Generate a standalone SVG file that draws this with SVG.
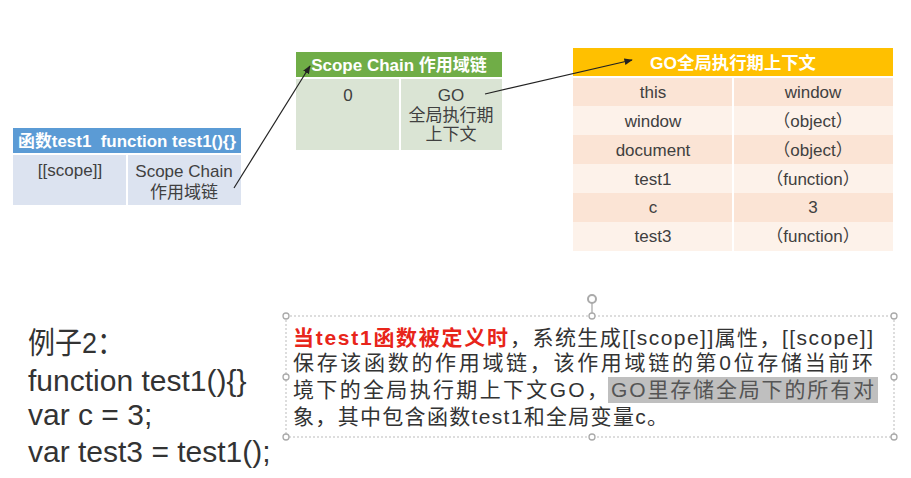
<svg xmlns="http://www.w3.org/2000/svg" width="911" height="478" viewBox="0 0 911 478">
<defs>
<style>
text{font-family:"Liberation Sans","Noto Sans CJK SC",sans-serif;}
.hd{fill:#fff;font-weight:bold;font-size:17px;text-anchor:middle;dominant-baseline:central;white-space:pre;}
.cell{fill:#404040;font-size:17px;text-anchor:middle;dominant-baseline:central;}
.div{stroke:#fff;stroke-width:2;}
.conn{stroke:#222;stroke-width:1.2;fill:none;}
.code{fill:#333;font-size:30px;}
.para{fill:#333;font-size:21px;}
.red{fill:#E8251A;font-weight:bold;}
.hl{fill:#555;}
.hdl{fill:#fff;stroke:#aaa;stroke-width:1.3;}
</style>
<marker id="ah" viewBox="0 0 10 10" refX="9" refY="5" markerWidth="7" markerHeight="7" orient="auto"><path d="M0,1 L10,5 L0,9 z" fill="#222"/></marker>
</defs>
<rect width="911" height="478" fill="#fff"/>

<g id="func-table">
<rect x="13" y="128" width="228" height="26" fill="#5B9BD5"/>
<rect x="13" y="154" width="228" height="51" fill="#DCE3F0"/>
<line class="div" x1="127" y1="155" x2="127" y2="205"/>
<line class="div" x1="13" y1="154" x2="241" y2="154"/>
<text class="hd" x="127" y="141" textLength="218" lengthAdjust="spacingAndGlyphs" xml:space="preserve">函数test1  function test1(){}</text>
<text class="cell" x="70" y="170">[[scope]]</text>
<text class="cell" x="184" y="171">Scope Chain</text>
<text class="cell" x="184" y="192">作用域链</text>
</g>

<g id="scope-table">
<rect x="296" y="52" width="206" height="26" fill="#70AD47"/>
<rect x="296" y="78" width="206" height="72" fill="#DAE4D4"/>
<line class="div" x1="296" y1="78" x2="502" y2="78"/>
<line class="div" x1="400" y1="79" x2="400" y2="150"/>
<text class="hd" x="399" y="65">Scope Chain 作用域链</text>
<text class="cell" x="348" y="95">0</text>
<text class="cell" x="451" y="95">GO</text>
<text class="cell" x="451" y="115">全局执行期</text>
<text class="cell" x="451" y="134">上下文</text>
</g>

<g id="go-table">
<rect x="573" y="48" width="320" height="29" fill="#FFC000"/>
<rect x="573" y="77" width="320" height="29" fill="#FBE4D5"/>
<rect x="573" y="106" width="320" height="29" fill="#FDF2EA"/>
<rect x="573" y="135" width="320" height="29" fill="#FBE4D5"/>
<rect x="573" y="164" width="320" height="29" fill="#FDF2EA"/>
<rect x="573" y="193" width="320" height="29" fill="#FBE4D5"/>
<rect x="573" y="222" width="320" height="29" fill="#FDF2EA"/>
<line class="div" x1="573" y1="77" x2="893" y2="77"/>
<line class="div" x1="733" y1="78" x2="733" y2="251"/>
<text class="hd" x="733" y="63" textLength="166" lengthAdjust="spacingAndGlyphs">GO全局执行期上下文</text>
<text class="cell" x="653" y="92">this</text><text class="cell" x="813" y="92">window</text>
<text class="cell" x="653" y="121">window</text><text class="cell" x="813" y="121">（object）</text>
<text class="cell" x="653" y="150">document</text><text class="cell" x="813" y="150">（object）</text>
<text class="cell" x="653" y="179">test1</text><text class="cell" x="813" y="179">（function）</text>
<text class="cell" x="653" y="207">c</text><text class="cell" x="813" y="207">3</text>
<text class="cell" x="653" y="236">test3</text><text class="cell" x="813" y="236">（function）</text>
</g>

<g id="connectors">
<line class="conn" x1="234" y1="188" x2="310" y2="66" marker-end="url(#ah)"/>
<line class="conn" x1="485" y1="94" x2="632" y2="60" marker-end="url(#ah)"/>
</g>

<g id="code">
<text class="code" x="28" y="353" textLength="96" lengthAdjust="spacingAndGlyphs">例子2：</text>
<text class="code" x="28" y="391">function test1(){}</text>
<text class="code" x="28" y="425">var c = 3;</text>
<text class="code" x="28" y="462">var test3 = test1();</text>
</g>

<g id="explanation">
<rect x="286" y="316" width="608" height="121" fill="none" stroke="#bbb" stroke-width="1" stroke-dasharray="2,2"/>
<line x1="592" y1="302" x2="592" y2="316" stroke="#aaa" stroke-width="1.3"/>
<circle cx="592" cy="299" r="4" fill="#fff" stroke="#aaa" stroke-width="2"/>
<circle class="hdl" cx="286" cy="316" r="3"/>
<circle class="hdl" cx="592" cy="316" r="3"/>
<circle class="hdl" cx="894" cy="316" r="3"/>
<circle class="hdl" cx="286" cy="377" r="3"/>
<circle class="hdl" cx="894" cy="377" r="3"/>
<circle class="hdl" cx="286" cy="437" r="3"/>
<circle class="hdl" cx="592" cy="437" r="3"/>
<circle class="hdl" cx="894" cy="437" r="3"/>
<rect x="608" y="377" width="270" height="26" fill="#BFBFBF"/>
<text class="para red" x="293" y="345" textLength="215" lengthAdjust="spacing">当test1函数被定义时</text>
<text class="para" x="510" y="345" textLength="363" lengthAdjust="spacing">，系统生成[[scope]]属性，[[scope]]</text>
<text class="para" x="293" y="370" textLength="580" lengthAdjust="spacing">保存该函数的作用域链，该作用域链的第0位存储当前环</text>
<text class="para" x="293" y="397" textLength="315" lengthAdjust="spacing">境下的全局执行期上下文GO，</text>
<text class="para hl" x="611" y="397" textLength="263" lengthAdjust="spacing">GO里存储全局下的所有对</text>
<text class="para" x="293" y="424" textLength="375" lengthAdjust="spacing">象，其中包含函数test1和全局变量c。</text>
</g>
</svg>
